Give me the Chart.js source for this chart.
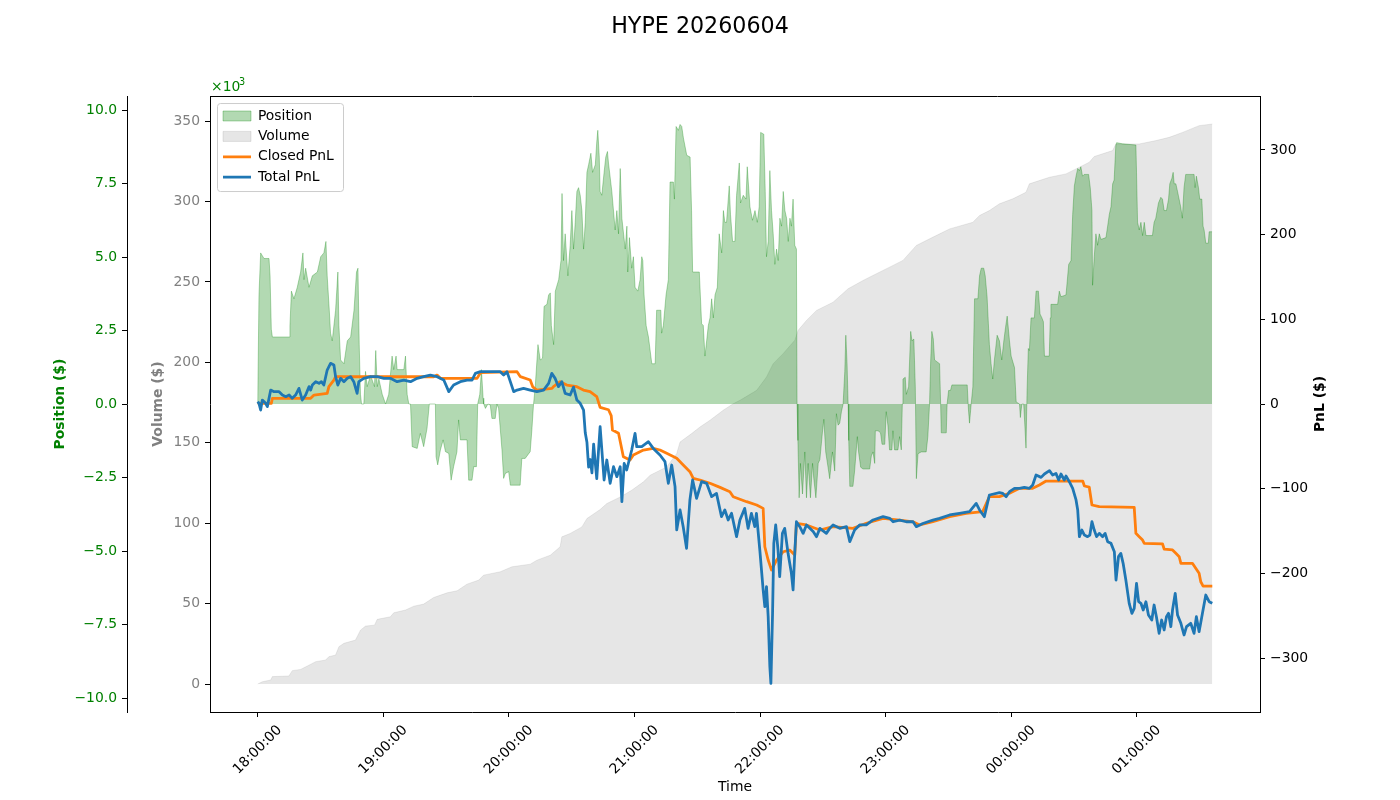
<!DOCTYPE html>
<html>
<head>
<meta charset="utf-8">
<title>HYPE 20260604</title>
<script src="https://cdn.jsdelivr.net/npm/chart.js@4.4.1/dist/chart.umd.min.js"></script>
<style>
  body { margin: 0; background: #fff; }
  canvas { display: block; }
</style>
</head>
<body>
<canvas id="grafico" width="1400" height="800"></canvas>
<script>
// Dados: [minutos desde 18:00, valor]
const timeLabels = ["18:00:00", "19:00:00", "20:00:00", "21:00:00", "22:00:00", "23:00:00", "00:00:00", "01:00:00"];
const seriesNames = ["Position", "Volume", "Closed PnL", "Total PnL"];

// Posição em milhares de $
const positionK = [[0,0],[0.6,3.71],[1.4,5.14],[3.0,4.95],[5.4,4.95],[5.9,4.36],[6.5,2.54],[7.0,2.28],[15.0,2.28],[15.4,2.67],[16.1,3.84],[17.3,3.58],[18.9,3.97],[20.5,4.49],[21.6,5.14],[22.1,4.23],[22.9,4.62],[24.5,3.97],[26.1,4.36],[28.5,4.49],[30.1,5.01],[31.6,5.14],[32.6,5.53],[33.2,4.36],[34.2,3.19],[34.8,2.41],[35.6,2.15],[37.2,3.19],[38.3,4.49],[38.8,2.67],[39.6,1.50],[41.2,1.37],[42.8,2.15],[44.4,2.28],[46.0,3.19],[47.2,4.49],[47.9,4.62],[48.5,2.02],[49.1,0.33],[49.6,0],[50.7,0],[51.5,1.11],[52.3,0.59],[53.9,0.98],[55.8,0.59],[56.4,1.82],[57.1,0.59],[57.9,0.85],[59.5,0.33],[61.1,0],[62.6,0.33],[64.2,1.63],[65.0,1.17],[66.1,1.63],[66.6,1.17],[69.8,1.17],[70.6,1.63],[71.4,0.33],[72.2,0],[73.0,0],[73.8,-1.45],[76.2,-1.51],[77.7,-1.00],[79.3,-1.45],[80.9,-0.83],[82.0,0],[84.9,0],[85.2,-1.79],[86.0,-2.07],[87.3,-1.56],[88.6,-1.22],[89.7,-1.62],[91.3,-1.68],[92.4,-2.59],[93.6,-2.13],[95.2,-1.62],[96.0,-0.54],[96.8,-1.22],[100.0,-1.22],[100.8,-2.59],[102.4,-2.59],[103.2,-2.13],[104.5,-2.13],[105.1,0],[106.1,0.33],[106.9,1.17],[107.7,0.2],[108.0,0],[108.8,-0.15],[110.0,0],[111.1,-0.03],[111.9,-0.49],[113.5,-0.49],[114.3,0],[115.1,-0.15],[116.7,-1.56],[117.5,-2.53],[118.3,-2.36],[119.9,-2.30],[120.7,-2.76],[125.4,-2.76],[126.2,-1.85],[127.8,-1.85],[130.2,-1.62],[131.0,-0.88],[131.8,0],[132.6,0.59],[133.9,2.02],[135.0,1.50],[136.1,1.56],[136.8,3.32],[138.2,3.39],[139.0,3.71],[139.8,3.78],[140.3,2.67],[141.4,2.02],[142.2,3.84],[143.8,4.23],[144.9,4.88],[145.4,7.16],[146.1,4.88],[146.9,5.79],[148.2,4.36],[149.3,5.40],[150.1,6.58],[150.9,5.27],[151.7,6.18],[152.5,7.23],[153.3,7.36],[154.1,7.10],[154.9,6.58],[155.7,5.27],[156.5,6.18],[157.3,7.88],[158.1,8.14],[159.2,8.53],[160.0,7.88],[161.3,8.14],[162.0,8.92],[162.5,9.31],[163.2,8.40],[163.6,7.23],[164.4,7.10],[165.5,7.88],[166.3,8.40],[167.1,8.59],[167.6,8.20],[169.2,7.23],[170.8,5.92],[171.6,6.58],[172.4,5.79],[173.2,8.01],[174.0,6.32],[175.6,5.27],[176.4,6.05],[176.8,4.49],[177.6,5.66],[178.7,4.62],[179.5,5.01],[180.3,3.97],[181.6,3.84],[182.7,4.23],[183.5,5.01],[184.0,4.88],[184.6,3.71],[185.6,2.67],[186.7,2.28],[188.3,1.37],[189.9,1.37],[190.6,3.19],[192.6,3.19],[193.0,2.41],[193.8,2.67],[195.1,3.71],[196.2,4.23],[197.0,7.55],[198.6,7.55],[199.1,6.97],[199.9,9.44],[201.0,9.31],[201.8,9.51],[202.6,9.44],[203.4,9.05],[205.0,8.46],[206.6,8.40],[207.3,6.58],[207.8,4.49],[211.0,4.49],[212.1,2.73],[212.9,2.67],[213.7,1.63],[214.5,2.15],[215.3,2.67],[216.1,2.93],[216.9,3.58],[217.7,2.93],[218.5,3.71],[219.6,3.97],[220.5,5.79],[221.7,5.14],[222.5,6.58],[223.2,6.18],[224.0,6.18],[225.3,7.42],[225.9,6.45],[226.9,5.53],[228.0,5.53],[228.8,7.10],[230.1,8.20],[230.7,6.84],[232.0,7.10],[233.3,6.97],[233.9,8.07],[235.2,6.71],[236.4,6.25],[237.6,6.58],[238.7,6.18],[239.6,6.71],[240.3,9.24],[241.8,9.18],[242.5,7.23],[243.1,5.01],[243.9,5.53],[244.7,7.94],[245.5,6.58],[246.3,5.79],[247.1,4.75],[247.9,5.27],[248.7,4.88],[249.5,6.32],[250.3,6.05],[251.1,7.23],[251.9,6.58],[252.7,6.32],[253.5,5.53],[254.3,6.32],[255.0,6.05],[255.8,6.97],[256.6,5.40],[257.4,5.27],[257.7,0],[258.1,-1.24],[258.7,-3.19],[259.3,-2.02],[260.3,-3.06],[261.4,-1.63],[262.2,-3.19],[263.0,-2.02],[264.1,-3.19],[265.1,-2.02],[265.7,-2.54],[266.7,-3.19],[267.8,-2.02],[268.6,-1.89],[269.8,-0.98],[270.5,-0.52],[271.4,-1.63],[272.5,-2.15],[273.3,-2.54],[274.6,-1.63],[275.7,-2.28],[276.5,-0.33],[277.3,-0.72],[278.1,-0.65],[278.9,-0.26],[279.7,0],[280.5,1.11],[281.0,2.34],[281.6,1.37],[282.1,0],[282.4,-1.24],[282.9,-2.80],[284.4,-2.80],[285.2,-2.28],[286.5,-1.11],[287.1,-1.63],[288.1,-2.15],[289.2,-2.21],[292.4,-2.21],[293.2,-1.76],[294.0,-1.63],[294.8,-2.02],[295.1,-0.91],[296.4,-0.91],[297.6,-0.98],[298.3,-1.37],[299.6,-1.37],[300.3,-0.26],[301.1,-0.72],[301.9,-1.56],[303.0,-1.56],[303.5,-0.91],[304.3,-1.56],[305.9,-1.56],[306.7,-1.11],[307.5,-1.56],[308.0,0],[308.3,0.85],[309.4,0.91],[309.9,0.33],[311.0,0.59],[312.0,2.47],[312.6,2.15],[313.5,2.21],[314.2,0.59],[314.7,-2.54],[315.5,-1.69],[317.0,-1.63],[319.4,-1.63],[320.2,-1.11],[321.0,0],[321.5,1.37],[322.1,2.47],[322.8,2.21],[323.4,1.50],[325.8,1.37],[326.3,0],[326.6,-0.98],[329.0,-0.98],[329.4,0],[330.1,0.46],[331.0,0.46],[331.7,0.65],[339.0,0.65],[339.6,-0.20],[340.1,-0.65],[340.9,0],[341.7,0.59],[342.5,3.58],[344.1,3.58],[344.9,4.36],[345.7,4.62],[346.9,4.62],[347.6,4.36],[348.5,3.65],[349.6,2.02],[350.4,1.37],[351.2,0.85],[352.0,1.50],[353.3,2.34],[354.4,2.15],[355.5,1.50],[356.5,2.15],[357.3,2.60],[358.1,2.99],[359.2,2.15],[360.0,1.63],[361.6,1.24],[362.4,0.07],[364.0,0],[364.4,-0.46],[365.1,0],[366.0,0],[367.1,-1.50],[367.6,0.46],[368.2,1.89],[368.7,1.82],[369.5,2.93],[371.1,2.93],[371.9,3.84],[373.0,3.84],[373.8,3.06],[374.7,2.93],[375.4,2.80],[375.9,1.63],[378.2,1.63],[378.7,2.93],[379.0,3.39],[382.2,3.39],[383.0,3.84],[383.8,3.65],[386.2,3.71],[387.5,4.75],[388.6,4.88],[389.4,6.45],[390.2,7.42],[391.0,7.75],[391.8,8.01],[392.6,7.94],[393.3,8.07],[394.1,7.75],[394.9,7.81],[397.0,7.81],[397.8,7.36],[398.6,6.58],[398.9,4.04],[399.7,5.01],[400.5,5.79],[401.3,5.40],[402.1,5.79],[402.9,5.60],[405.3,5.66],[406.1,6.05],[406.9,6.45],[407.7,6.71],[408.5,7.49],[409.2,7.62],[410.0,8.79],[410.4,8.89],[413.2,8.85],[419.6,8.81],[419.9,7.88],[420.4,6.18],[421.2,5.92],[422.0,6.18],[422.8,5.73],[423.6,6.18],[424.4,5.73],[427.5,5.73],[428.3,6.18],[429.1,6.32],[430.4,6.84],[431.5,7.03],[432.3,6.97],[433.1,6.58],[434.2,6.58],[435.2,6.97],[435.8,7.49],[436.8,7.68],[437.4,7.88],[437.9,7.49],[438.7,7.49],[439.5,7.23],[441.0,6.71],[441.8,6.32],[442.6,7.36],[443.4,7.81],[447.4,7.81],[447.9,7.36],[448.5,7.75],[449.5,7.36],[450.1,6.97],[451.1,6.97],[451.7,6.05],[452.2,5.92],[453.0,5.47],[454.2,5.47],[454.6,5.86],[456.0,5.86]];

// Volume acumulado em milhares de $
const volumeK = [[0,0],[2.2,1.4],[6.2,2.5],[7.0,4.6],[14.9,5.0],[16.5,8.3],[20.5,9.1],[23.7,11.2],[27.7,13.9],[32.4,14.9],[34.0,17.0],[37.2,18.0],[38.8,23.2],[41.2,25.3],[46.7,27.3],[49.1,33.5],[51.5,36.0],[55.8,36.6],[57.1,40.2],[63.4,41.8],[65.0,44.3],[70.6,46.0],[74.6,48.4],[79.3,49.7],[84.1,53.8],[90.5,56.7],[95.3,58.0],[100.0,62.1],[105.6,64.6],[107.9,67.7],[115.9,69.8],[121.5,72.9],[130.2,74.5],[133.4,77.0],[139.8,80.1],[144.5,85.3],[145.3,91.5],[149.3,93.6],[154.9,97.7],[157.3,102.9],[163.6,108.5],[166.8,112.2],[173.2,116.3],[178.7,120.5],[184.3,125.7],[187.5,129.8],[195.4,135.0],[200.2,143.3],[201.8,150.5],[207.3,155.7],[211.3,159.8],[216.1,164.0],[222.4,170.2],[227.2,174.3],[230.4,176.4],[238.4,182.6],[243.1,190.9],[246.3,199.2],[251.0,205.4],[256.6,213.7],[258.2,219.9],[262.2,226.1],[267.0,232.3],[274.9,237.4],[282.1,245.8],[289.2,250.9],[295.6,255.1],[301.9,259.2],[308.3,263.4],[314.7,272.7],[321.0,276.8],[325.8,279.9],[330.6,283.0],[341.7,287.1],[344.9,291.3],[349.6,294.4],[354.4,298.6],[360.8,301.7],[367.1,305.8],[368.7,311.0],[378.3,315.1],[386.2,317.2],[391.0,320.3],[397.3,324.4],[399.7,328.0],[408.5,331.7],[410.0,335.8],[421.2,335.8],[429.2,337.9],[435.5,339.9],[441.9,343.0],[449.8,347.2],[456.1,348.2]];

// PnL realizado ($)
const closedPnl = [[0,0.8],[6.5,0.8],[7.0,6.7],[25.3,6.7],[26.9,10.6],[33.2,12.6],[34.0,20.5],[36.4,28.3],[37.2,32.2],[84.1,32.2],[85.7,34.2],[87.3,30.3],[104.8,30.3],[106.4,37.0],[123.9,38.2],[125.5,32.3],[130.2,28.3],[131.4,20.3],[133.4,16.5],[140.6,18.5],[141.3,20.5],[144.5,26.3],[147.7,22.4],[152.5,20.5],[155.6,16.5],[158.8,14.6],[162.0,8.7],[163.6,-4.0],[167.6,-6.8],[168.9,-13.6],[169.5,-30.7],[172.4,-34.6],[174.7,-62.2],[177.9,-66.1],[179.5,-60.2],[184.3,-54.3],[189.0,-52.4],[192.2,-54.3],[195.4,-58.2],[200.2,-64.1],[203.3,-72.0],[206.5,-79.9],[208.1,-87.7],[211.3,-89.7],[216.1,-93.6],[220.9,-98.4],[225.6,-103.5],[227.2,-109.4],[233.6,-115.3],[238.4,-119.2],[241.5,-123.2],[242.3,-168.5],[243.9,-184.2],[245.5,-196.0],[247.9,-184.2],[251.1,-174.4],[254.2,-172.4],[256.6,-178.3],[257.4,-140.8],[262.2,-142.8],[268.6,-148.8],[274.9,-144.8],[284.4,-146.8],[290.8,-140.8],[298.8,-135.0],[306.7,-137.0],[313.1,-139.0],[316.3,-142.8],[322.6,-139.0],[330.6,-133.0],[338.5,-129.0],[346.4,-127.1],[349.6,-109.4],[354.4,-109.4],[359.2,-105.4],[364.0,-99.5],[370.3,-99.5],[373.5,-95.6],[376.7,-90.9],[394.2,-90.9],[395.0,-96.8],[397.3,-98.0],[398.6,-119.2],[402.1,-121.2],[418.8,-122.0],[419.6,-152.7],[421.2,-156.6],[422.8,-160.6],[423.6,-164.5],[432.3,-165.0],[433.1,-171.2],[437.1,-172.3],[438.7,-176.3],[440.3,-180.3],[441.1,-188.1],[446.6,-188.1],[448.2,-194.0],[449.8,-199.9],[450.6,-209.8],[451.7,-214.9],[456.1,-214.9]];

// PnL total ($)
const totalPnl = [[0,2.8],[0.6,0.8],[1.4,-7.1],[2.2,4.7],[3.8,0.8],[4.6,-3.1],[6.2,16.5],[7.8,14.6],[10.2,14.6],[11.8,10.6],[13.4,8.7],[15.0,10.6],[16.5,6.7],[18.1,10.6],[19.7,18.5],[21.3,4.7],[22.9,10.6],[24.5,20.5],[25.3,16.5],[26.1,22.4],[27.7,26.4],[29.3,24.4],[30.4,26.4],[31.6,22.4],[33.2,40.1],[34.8,48.0],[36.4,46.0],[37.2,32.3],[38.3,22.4],[39.6,30.3],[41.2,26.4],[42.8,30.3],[44.4,32.3],[45.9,26.4],[47.5,12.6],[48.3,26.4],[50.7,30.3],[53.9,32.3],[57.1,32.3],[60.3,30.3],[63.4,30.3],[66.6,26.4],[69.8,28.3],[73.0,26.4],[76.2,30.3],[79.3,32.3],[82.5,34.2],[85.7,32.3],[88.9,28.3],[91.3,14.6],[93.6,22.4],[96.8,26.4],[100.0,28.3],[102.4,28.3],[104.0,36.2],[106.4,38.2],[115.9,38.2],[117.5,34.2],[119.1,38.2],[120.7,26.4],[122.3,14.6],[123.9,16.5],[127.0,18.5],[130.2,16.5],[133.4,14.6],[136.6,16.5],[139.0,24.4],[140.5,36.2],[142.1,30.3],[143.7,20.5],[145.3,26.4],[146.9,12.6],[149.3,10.6],[150.9,20.0],[152.5,4.7],[154.1,0.8],[155.7,-7.1],[156.5,-34.0],[157.3,-45.0],[158.1,-74.6],[158.9,-65.5],[159.7,-81.3],[160.5,-47.4],[161.3,-70.0],[162.0,-88.1],[162.8,-56.5],[163.6,-26.8],[165.5,-89.7],[166.8,-66.1],[168.4,-93.6],[170.0,-74.0],[171.6,-85.8],[173.2,-74.0],[174.0,-115.3],[175.1,-70.1],[176.3,-77.9],[178.7,-54.3],[180.3,-34.6],[181.1,-50.4],[183.5,-50.4],[186.7,-44.5],[189.0,-52.4],[192.2,-60.2],[194.6,-68.1],[196.2,-93.6],[197.8,-72.0],[199.4,-97.5],[200.2,-148.7],[201.8,-125.1],[203.3,-144.8],[204.9,-170.4],[206.5,-113.3],[207.8,-89.7],[209.7,-111.4],[212.1,-91.7],[214.5,-93.6],[216.9,-109.4],[219.2,-105.5],[221.6,-133.0],[223.2,-125.1],[224.8,-136.9],[226.4,-129.0],[228.8,-156.6],[230.4,-136.9],[232.7,-123.2],[234.3,-146.8],[235.9,-129.0],[237.5,-144.8],[238.3,-129.0],[239.9,-172.3],[241.5,-219.5],[242.3,-239.2],[243.1,-215.6],[243.9,-251.0],[244.7,-310.1],[245.2,-329.8],[246.0,-247.1],[246.6,-164.4],[247.5,-142.8],[248.6,-172.3],[249.4,-203.8],[250.7,-152.7],[251.8,-146.8],[253.4,-176.3],[255.0,-199.9],[255.8,-219.5],[256.6,-176.3],[257.4,-138.9],[259.0,-144.8],[260.6,-152.7],[262.2,-142.8],[265.4,-150.6],[267.0,-156.6],[268.6,-146.8],[271.7,-152.7],[273.3,-146.8],[274.9,-142.8],[278.1,-146.8],[281.3,-144.8],[282.9,-162.5],[285.2,-148.8],[287.6,-142.8],[290.8,-142.8],[294.0,-136.9],[298.8,-133.0],[302.0,-135.0],[303.6,-139.0],[306.7,-137.0],[309.9,-139.0],[313.1,-139.0],[314.7,-144.8],[317.8,-141.0],[322.6,-137.0],[325.8,-135.0],[330.6,-131.0],[335.3,-129.0],[340.1,-127.1],[343.3,-117.3],[344.9,-125.1],[347.2,-133.0],[349.6,-107.4],[354.4,-104.5],[356.0,-105.5],[357.6,-109.4],[359.2,-103.5],[361.6,-99.6],[364.0,-99.6],[366.3,-98.4],[368.7,-99.6],[370.3,-95.6],[371.9,-83.8],[374.3,-86.6],[375.9,-82.6],[378.3,-78.7],[379.8,-83.8],[381.4,-81.9],[382.7,-89.7],[383.8,-82.6],[385.4,-89.7],[386.2,-85.0],[387.8,-91.7],[389.4,-99.6],[391.0,-113.3],[391.8,-125.1],[392.6,-156.6],[393.8,-148.8],[395.0,-154.7],[396.5,-156.6],[397.6,-154.7],[398.6,-138.9],[399.7,-148.8],[400.8,-156.6],[402.1,-152.7],[403.7,-156.6],[404.9,-152.7],[406.1,-162.5],[407.7,-164.5],[409.3,-174.3],[410.1,-207.8],[411.3,-180.2],[412.4,-176.3],[413.5,-188.1],[414.8,-207.8],[416.4,-235.3],[417.7,-247.1],[418.8,-241.2],[419.9,-211.7],[420.9,-233.4],[422.0,-235.3],[423.1,-243.2],[424.4,-233.4],[425.6,-249.1],[427.2,-255.0],[428.3,-237.3],[429.4,-251.1],[430.7,-270.7],[431.9,-255.0],[433.1,-266.8],[434.2,-251.1],[435.2,-247.1],[436.3,-262.9],[437.1,-243.2],[438.4,-223.5],[439.5,-249.1],[441.1,-258.9],[442.6,-272.7],[443.8,-262.9],[445.8,-258.9],[447.4,-270.7],[448.5,-251.1],[449.8,-268.8],[451.4,-247.1],[453.0,-225.5],[454.6,-233.4],[456.1,-235.3]];

const minus = v => String(v).replace("-", "\u2212");
const toXY = arr => arr.map(p => ({ x: p[0], y: p[1] }));

Chart.defaults.font.family = "'DejaVu Sans', sans-serif";
Chart.defaults.font.size = 13.9;
Chart.defaults.color = "#000";

// Itens da legenda (patch para áreas, linha para PnL)
const legendItems = [
  { text: seriesNames[0], fillStyle: "rgba(0,128,0,0.3)", strokeStyle: "rgba(0,128,0,0.3)", lineWidth: 1, pointStyle: "rect", hidden: false, datasetIndex: 2 },
  { text: seriesNames[1], fillStyle: "rgba(128,128,128,0.2)", strokeStyle: "rgba(128,128,128,0.2)", lineWidth: 1, pointStyle: "rect", hidden: false, datasetIndex: 3 },
  { text: seriesNames[2], fillStyle: "#ff7f0e", strokeStyle: "#ff7f0e", lineWidth: 2.78, pointStyle: "line", hidden: false, datasetIndex: 1 },
  { text: seriesNames[3], fillStyle: "#1f77b4", strokeStyle: "#1f77b4", lineWidth: 2.78, pointStyle: "line", hidden: false, datasetIndex: 0 }
];

// Moldura da legenda, borda de cima, ×10³ e título do eixo da direita
const extras = {
  id: "extras",
  afterLayout(chart) {
    // legenda dentro da área, no canto de cima à esquerda
    chart.legend.left = chart.chartArea.left + 6.5;
    chart.legend.top = chart.chartArea.top + 6.5;
  },
  beforeDraw(chart) {
    const ctx = chart.ctx;
    const a = chart.chartArea;
    const x = a.left + 7.5, y = a.top + 7.5, w = 126, h = 88, r = 3;
    ctx.save();
    ctx.beginPath();
    ctx.moveTo(x + r, y);
    ctx.arcTo(x + w, y, x + w, y + h, r);
    ctx.arcTo(x + w, y + h, x, y + h, r);
    ctx.arcTo(x, y + h, x, y, r);
    ctx.arcTo(x, y, x + w, y, r);
    ctx.closePath();
    ctx.fillStyle = "rgba(255,255,255,0.8)";
    ctx.fill();
    ctx.strokeStyle = "#cccccc";
    ctx.lineWidth = 1;
    ctx.stroke();
    ctx.restore();
  },
  afterDraw(chart) {
    const ctx = chart.ctx;
    const a = chart.chartArea;
    ctx.save();
    ctx.strokeStyle = "#000";
    ctx.lineWidth = 1;
    ctx.beginPath();
    ctx.moveTo(a.left, Math.round(a.top) + 0.5);
    ctx.lineTo(a.right, Math.round(a.top) + 0.5);
    ctx.stroke();

    ctx.fillStyle = "green";
    ctx.textBaseline = "alphabetic";
    ctx.font = "13.9px 'DejaVu Sans'";
    ctx.fillText("\u00d710", a.left + 1, a.top - 5);
    ctx.font = "9.7px 'DejaVu Sans'";
    ctx.fillText("3", a.left + 29, a.top - 11);

    ctx.translate(1320, (a.top + a.bottom) / 2);
    ctx.rotate(-Math.PI / 2);
    ctx.font = "bold 13.9px 'DejaVu Sans'";
    ctx.fillStyle = "#000";
    ctx.textAlign = "center";
    ctx.textBaseline = "middle";
    ctx.fillText("PnL ($)", 0, 0);
    ctx.restore();
  }
};

const tickGrid = { drawOnChartArea: false, tickLength: 5, tickColor: "#000", tickWidth: 1 };

new Chart(document.getElementById("grafico").getContext("2d"), {
  type: "line",
  data: {
    datasets: [
      { label: seriesNames[3], data: toXY(totalPnl), yAxisID: "yPnl", borderColor: "#1f77b4", borderWidth: 2.78, borderJoinStyle: "round", pointRadius: 0, fill: false, order: 0 },
      { label: seriesNames[2], data: toXY(closedPnl), yAxisID: "yPnl", borderColor: "#ff7f0e", borderWidth: 2.78, borderJoinStyle: "round", pointRadius: 0, fill: false, order: 1 },
      { label: seriesNames[0], data: toXY(positionK), yAxisID: "yPos", borderColor: "rgba(0,128,0,0.3)", backgroundColor: "rgba(0,128,0,0.3)", borderWidth: 1, pointRadius: 0, fill: "origin", order: 2 },
      { label: seriesNames[1], data: toXY(volumeK), yAxisID: "yVol", borderColor: "rgba(128,128,128,0.15)", backgroundColor: "rgba(128,128,128,0.2)", borderWidth: 1, pointRadius: 0, fill: "origin", order: 3 }
    ]
  },
  options: {
    responsive: false,
    maintainAspectRatio: false,
    animation: false,
    devicePixelRatio: 1,
    layout: { padding: 0 },
    plugins: {
      title: {
        display: true,
        text: "HYPE 20260604",
        color: "#000",
        font: { size: 22.2, weight: "normal" },
        padding: { top: 13.7, bottom: 55.7 }
      },
      legend: {
        position: "chartArea",
        align: "start",
        labels: {
          usePointStyle: true,
          pointStyleWidth: 28,
          boxHeight: 10,
          padding: 6.5,
          color: "#000",
          font: { size: 13.9 },
          generateLabels: () => legendItems
        }
      },
      tooltip: { enabled: false }
    },
    scales: {
      x: {
        type: "linear",
        min: -22.8,
        max: 478.9,
        grid: tickGrid,
        border: { color: "#000", width: 1 },
        ticks: {
          stepSize: 60,
          includeBounds: false,
          minRotation: 45,
          maxRotation: 45,
          padding: 5,
          labelOffset: 22,
          color: "#000",
          callback: v => timeLabels[Math.round(v / 60)] || ""
        },
        title: { display: true, text: "Time", color: "#000", padding: { top: 0, bottom: 4.7 } },
        afterFit: s => { s.height = 88; }
      },
      yPos: {
        type: "linear",
        position: "left",
        weight: 2,
        min: -10.476,
        max: 10.476,
        grid: tickGrid,
        border: { color: "#000", width: 1 },
        ticks: { stepSize: 2.5, includeBounds: false, padding: 5, color: "green", callback: v => minus(v.toFixed(1)) },
        title: { display: true, text: "Position ($)", color: "green", font: { weight: "bold" }, padding: { top: 52, bottom: 0 } },
        afterFit: s => { s.width = 127; }
      },
      yVol: {
        type: "linear",
        position: "left",
        weight: 1,
        min: -17.4,
        max: 365.6,
        grid: tickGrid,
        border: { color: "#000", width: 1 },
        ticks: { stepSize: 50, includeBounds: false, padding: 5, color: "gray" },
        title: { display: true, text: "Volume ($)", color: "gray", font: { weight: "bold" }, padding: { top: 22.7, bottom: 0 } },
        afterFit: s => { s.width = 83; }
      },
      yPnl: {
        type: "linear",
        position: "right",
        min: -363.6,
        max: 363.6,
        grid: tickGrid,
        border: { color: "#000", width: 1 },
        ticks: { stepSize: 100, includeBounds: false, padding: 5, color: "#000", callback: v => minus(v) },
        afterFit: s => { s.width = 140; }
      }
    }
  },
  plugins: [extras]
});
</script>
</body>
</html>
